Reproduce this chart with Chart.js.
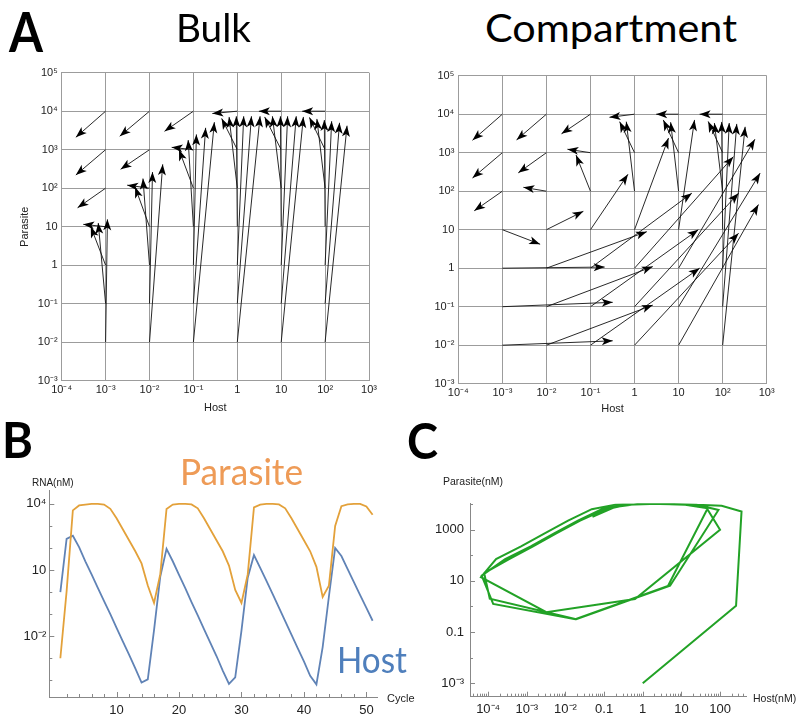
<!DOCTYPE html>
<html><head><meta charset="utf-8">
<script src="https://cdn.jsdelivr.net/npm/chart.js@4.4.1/dist/chart.umd.min.js"></script>
<style>
html,body{margin:0;padding:0;background:#fff;}
body{position:relative;width:800px;height:722px;overflow:hidden;}
.cw{position:absolute;}
.cw canvas{display:block;}
.lbl{position:absolute;white-space:nowrap;line-height:1;transform-origin:0 0;}
</style></head><body>
<div class="cw" style="left:0;top:60px;width:400px;height:360px"><canvas id="bulk" width="400" height="360"></canvas></div>
<div class="cw" style="left:400px;top:60px;width:400px;height:360px"><canvas id="comp" width="400" height="360"></canvas></div>
<div class="cw" style="left:0;top:470px;width:420px;height:252px"><canvas id="rna" width="420" height="252"></canvas></div>
<div class="cw" style="left:420px;top:470px;width:380px;height:252px"><canvas id="phase" width="380" height="252"></canvas></div>
<script>
// ---------------- DATA ----------------
// Panel A: arrow start points (host, parasite), column by column
const startHost = [
  1e-3,1e-3,1e-3,1e-3,1e-3,1e-3,1e-3,
  1e-2,1e-2,1e-2,1e-2,1e-2,1e-2,1e-2,
  0.1,0.1,0.1,0.1,0.1,0.1,0.1,
  1,1,1,1,1,1,1,
  10,10,10,10,10,10,10,
  100,100,100,100,100,100,100];
const startParasite = [
  1e4,1e3,1e2,10,1,0.1,0.01,
  1e4,1e3,1e2,10,1,0.1,0.01,
  1e4,1e3,1e2,10,1,0.1,0.01,
  1e4,1e3,1e2,10,1,0.1,0.01,
  1e4,1e3,1e2,10,1,0.1,0.01,
  1e4,1e3,1e2,10,1,0.1,0.01];
// Bulk: arrow end points
const bulkEndHost = [
  2.1e-4,2.1e-4,2.3e-4,3.1e-4,4.6e-4,6.8e-4,1.1e-3,
  2.1e-3,2.2e-3,3.1e-3,4.7e-3,7.1e-3,1.17e-2,2.0e-2,
  0.022,0.032,0.047,0.076,0.117,0.19,0.30,
  0.27,0.44,0.65,0.95,1.4,2.1,3.3,
  3.1,4.2,6.3,9.6,14,22,32,
  30,44,65,96,141,213,316];
const bulkEndParasite = [
  2100,220,31,11.5,10,12.5,15.5,
  2240,310,120,107,178,263,417,
  3000,1150,1000,1780,2500,3700,5200,
  8700,6500,7100,7400,7400,7400,7400,
  10000,7100,7400,7400,7400,7400,7100,
  10000,6900,6300,5900,5500,5000,4200];
// Compartment: arrow end points
const compEndHost = [
  2.1e-4,2.1e-4,2.3e-4,7.2e-3,0.21,0.32,0.32,
  2.1e-3,2.3e-3,3.0e-3,0.069,1.9,2.6,2.6,
  0.022,0.030,0.047,0.71,20,28,30,
  0.27,0.46,0.65,5.9,175,230,230,
  3.1,4.5,6.6,23,540,710,650,
  30,47,65,95,141,209,324];
const compEndParasite = [
  2100,220,31,4.2,1.07,0.13,0.013,
  2150,300,126,30,8.9,1.1,0.11,
  3100,1230,870,275,89,10,1.0,
  8300,6400,6400,2400,790,89,8.1,
  10000,7100,6200,7100,2240,295,45,
  10000,6500,5900,6300,5900,5600,4700];
const aHostTicks = [1e-4,1e-3,1e-2,1e-1,1,10,100,1000];
const aHostTickLabels = ['10\u207B\u2074','10\u207B\u00B3','10\u207B\u00B2','10\u207B\u00B9','1','10','10\u00B2','10\u00B3'];
const aParasiteTicks = [1e-3,1e-2,1e-1,1,10,100,1e3,1e4,1e5];
const aParasiteTickLabels = ['10\u207B\u00B3','10\u207B\u00B2','10\u207B\u00B9','1','10','10\u00B2','10\u00B3','10\u2074','10\u2075'];

// Panels B and C: time series (RNA, nM) per cycle
const cycles = [1,2,3,4,5,6,7,8,9,10,11,12,13,14,15,16,17,18,19,20,21,22,23,24,25,26,27,28,29,30,31,32,33,34,35,36,37,38,39,40,41,42,43,44,45,46,47,48,49,50,51];
const parasiteRNA = [0.001,1.07,5100,8500,9300,10000,10000,9300,6000,2240,710,224,71,20,2,0.32,6.5,
  5900,9300,10000,10000,9500,6300,2240,710,224,71,16,1.26,0.32,6.3,
  6900,9300,10000,10000,9500,6300,2240,710,224,71,14,0.6,1.95,1000,7900,9500,10000,10000,7600,3200];
const hostRNA = [1,260,360,110,25,6.3,1.55,0.39,0.1,0.024,0.0058,0.00145,3.5e-4,7.9e-5,1.1e-4,0.019,5.1,
  91,25,6,1.5,0.35,0.087,0.021,0.0051,0.00126,2.75e-4,6.8e-5,1.35e-4,0.018,4.5,
  48,12.6,3.2,0.8,0.195,0.048,0.0117,0.0029,7.1e-4,1.6e-4,6.5e-5,0.0032,0.63,100,43,11,2.8,0.72,0.19,0.05];
const bCycleTicks = [10,20,30,40,50];
const bRnaTicks = [1e-2,10,1e4];
const bRnaTickLabels = ['10\u207B\u00B2','10','10\u2074'];
const cHostTicks = [1e-4,1e-3,1e-2,0.1,1,10,100];
const cHostTickLabels = ['10\u207B\u2074','10\u207B\u00B3','10\u207B\u00B2','0.1','1','10','100'];
const cParasiteTicks = [1e-3,0.1,10,1000];
const cParasiteTickLabels = ['10\u207B\u00B3','0.1','10','1000'];

// ---------------- HELPERS ----------------
const SANS = "'Liberation Sans', Arial, sans-serif";
Chart.defaults.font.family = SANS;

function fixedTicks(values){ return s => { s.ticks = values.map(v => ({value: v})); }; }

function headsPlugin(endHost, endPar){
  return {id:'heads', afterDatasetsDraw(chart){
    const xs = chart.scales.x, ys = chart.scales.y, c = chart.ctx;
    c.save(); c.fillStyle = '#000';
    for (let i = 0; i < startHost.length; i++){
      const x0 = xs.getPixelForValue(startHost[i]), y0 = ys.getPixelForValue(startParasite[i]);
      const x1 = xs.getPixelForValue(endHost[i]), y1 = ys.getPixelForValue(endPar[i]);
      const a = Math.atan2(y1 - y0, x1 - x0), ca = Math.cos(a), sa = Math.sin(a);
      const L = 11, W = 4;
      c.beginPath();
      c.moveTo(x1, y1);
      c.lineTo(x1 - L*ca - W*sa, y1 - L*sa + W*ca);
      c.lineTo(x1 - 0.75*L*ca, y1 - 0.75*L*sa);
      c.lineTo(x1 - L*ca + W*sa, y1 - L*sa - W*ca);
      c.closePath(); c.fill();
    }
    c.restore();
  }};
}

function inTicksPlugin(xMajor, xMinor, yMajor, yMinor){
  return {id:'inticks', afterDraw(chart){
    const c = chart.ctx, a = chart.chartArea, xs = chart.scales.x, ys = chart.scales.y;
    c.save(); c.strokeStyle = '#888'; c.lineWidth = 1;
    const vx = (vals, len) => vals.forEach(v => { const p = Math.round(xs.getPixelForValue(v)) + 0.5;
      if (p < a.left - 0.5 || p > a.right + 0.5) return; c.beginPath(); c.moveTo(p, a.bottom); c.lineTo(p, a.bottom - len); c.stroke(); });
    const vy = (vals, len) => vals.forEach(v => { const p = Math.round(ys.getPixelForValue(v)) + 0.5;
      if (p < a.top - 0.5 || p > a.bottom + 0.5) return; c.beginPath(); c.moveTo(a.left, p); c.lineTo(a.left + len, p); c.stroke(); });
    vx(xMajor, 5); vx(xMinor, 3); vy(yMajor, 5); vy(yMinor, 3);
    c.restore();
  }};
}

function arrowPanel(id, endHost, endPar, g){
  const datasets = startHost.map((h, i) => ({
    data: [{x: h, y: startParasite[i]}, {x: endHost[i], y: endPar[i]}],
    showLine: true, borderColor: '#111', borderWidth: 0.9, pointRadius: 0, fill: false
  }));
  new Chart(document.getElementById(id), {
    type: 'scatter', data: {datasets}, plugins: [headsPlugin(endHost, endPar)],
    options: {
      responsive: false, animation: false, events: [],
      layout: {padding: {left: 0, right: g.padR, top: g.padT, bottom: 0}},
      plugins: {legend: {display: false}, tooltip: {enabled: false}},
      scales: {
        x: {type: 'logarithmic', position: 'bottom', min: 1e-4, max: 1e3,
          afterBuildTicks: fixedTicks(aHostTicks), afterFit: s => { s.height = g.xH; },
          ticks: {callback: (v, i) => aHostTickLabels[i], autoSkip: false, maxRotation: 0, minRotation: 0, padding: 3, color: '#222', font: {size: 11}},
          grid: {color: '#9c9c9c', lineWidth: 1, drawTicks: false}, border: {display: true, color: '#9c9c9c'},
          title: {display: true, text: 'Host', color: '#222', font: {size: 11}, padding: {top: 0, bottom: g.hostPad}}},
        y: {type: 'logarithmic', position: 'left', min: 1e-3, max: 1e5,
          afterBuildTicks: fixedTicks(aParasiteTicks), afterFit: s => { s.width = g.yW; },
          ticks: {callback: (v, i) => aParasiteTickLabels[i], autoSkip: false, padding: 4, color: '#222', font: {size: 11}},
          grid: {color: '#9c9c9c', lineWidth: 1, drawTicks: false}, border: {display: true, color: '#9c9c9c'},
          title: {display: g.yTitle, text: 'Parasite', color: '#222', font: {size: 11}, padding: {top: 18, bottom: 0}}}
      }
    }
  });
}

arrowPanel('bulk', bulkEndHost, bulkEndParasite, {yW: 61.7, padR: 31, padT: 12.7, xH: 39.3, hostPad: 5.4, yTitle: true});
arrowPanel('comp', compEndHost, compEndParasite, {yW: 58.3, padR: 33.3, padT: 15.7, xH: 36.3, hostPad: 4.0, yTitle: false});

// Panel B
const bMinorX = []; for (let v = 2; v <= 51; v += 2) if (v % 10) bMinorX.push(v);
new Chart(document.getElementById('rna'), {
  type: 'scatter',
  data: {datasets: [
    {data: cycles.map((c, i) => ({x: c, y: parasiteRNA[i]})), showLine: true, borderColor: '#E3A13A', borderWidth: 1.8, pointRadius: 0, fill: false},
    {data: cycles.map((c, i) => ({x: c, y: hostRNA[i]})), showLine: true, borderColor: '#6083B6', borderWidth: 1.8, pointRadius: 0, fill: false}
  ]},
  plugins: [inTicksPlugin(bCycleTicks, bMinorX, bRnaTicks, [1e-4,1e-3,0.1,1,100,1000])],
  options: {
    responsive: false, animation: false, events: [],
    layout: {padding: {left: 0, right: 43, top: 20, bottom: 0}},
    plugins: {legend: {display: false}, tooltip: {enabled: false}},
    scales: {
      x: {type: 'linear', min: -0.77, max: 51.7, afterBuildTicks: fixedTicks(bCycleTicks), afterFit: s => { s.height = 25; },
        ticks: {callback: v => String(v), autoSkip: false, maxRotation: 0, padding: 6, color: '#222', font: {size: 13}},
        grid: {display: false, drawTicks: false}, border: {display: true, color: '#888', width: 1}},
      y: {type: 'logarithmic', min: 1.74e-5, max: 4.27e4, afterBuildTicks: fixedTicks(bRnaTicks), afterFit: s => { s.width = 49.3; },
        ticks: {callback: (v, i) => bRnaTickLabels[i], autoSkip: false, padding: 3, color: '#222', font: {size: 13}},
        grid: {display: false, drawTicks: false}, border: {display: true, color: '#888', width: 1}}
    }
  }
});

// Panel C
const cMinorX = [];
[1e-5,1e-4,1e-3,1e-2,0.1,1,10,100].forEach(d => { for (let m = 2; m <= 9; m++) cMinorX.push(m * d); });
new Chart(document.getElementById('phase'), {
  type: 'scatter',
  data: {datasets: [
    {data: cycles.map((c, i) => ({x: hostRNA[i], y: parasiteRNA[i]})), showLine: true, borderColor: '#22A226', borderWidth: 2, pointRadius: 0, fill: false}
  ]},
  plugins: [inTicksPlugin(cHostTicks, cMinorX, cParasiteTicks, [0.01,1,100,1e4])],
  options: {
    responsive: false, animation: false, events: [],
    layout: {padding: {left: 0, right: 53.3, top: 33.3, bottom: 0}},
    plugins: {legend: {display: false}, tooltip: {enabled: false}},
    scales: {
      x: {type: 'logarithmic', min: 3.39e-5, max: 490, afterBuildTicks: fixedTicks(cHostTicks), afterFit: s => { s.height = 25.3; },
        ticks: {callback: (v, i) => cHostTickLabels[i], autoSkip: false, maxRotation: 0, padding: 5, color: '#222', font: {size: 13}},
        grid: {display: false, drawTicks: false}, border: {display: true, color: '#888', width: 1}},
      y: {type: 'logarithmic', min: 3.31e-4, max: 1.07e4, afterBuildTicks: fixedTicks(cParasiteTicks), afterFit: s => { s.width = 50; },
        ticks: {callback: (v, i) => cParasiteTickLabels[i], autoSkip: false, padding: 6, color: '#222', font: {size: 13}},
        grid: {display: false, drawTicks: false}, border: {display: true, color: '#888', width: 1}}
    }
  }
});

// ---------------- TEXT LABELS ----------------
function place(text, left, baseline, font, color, width){
  const d = document.createElement('div');
  d.className = 'lbl';
  d.style.left = left + 'px'; d.style.top = '0px'; d.style.font = font; d.style.color = color;
  const s = document.createElement('span'); s.textContent = text; d.appendChild(s);
  const m = document.createElement('span'); m.style.cssText = 'display:inline-block;width:0;height:0;vertical-align:baseline;';
  d.appendChild(m);
  document.body.appendChild(d);
  const off = m.getBoundingClientRect().top - d.getBoundingClientRect().top;
  d.style.top = (baseline - off) + 'px';
  if (width){ const w = s.getBoundingClientRect().width; d.style.transform = 'scaleX(' + (width / w) + ')'; }
  return d;
}
place('A', 9, 52, "700 55px Lato, 'Open Sans', sans-serif", '#000', 34);
place('Bulk', 176, 42, "400 39px Lato, 'Open Sans', sans-serif", '#000', 75);
place('Compartment', 485, 42, "400 39px Lato, 'Open Sans', sans-serif", '#000', 252);
place('B', 2, 458, "700 49px Lato, 'Open Sans', sans-serif", '#000', 31);
place('C', 407, 459, "700 49px Lato, 'Open Sans', sans-serif", '#000', 31);
place('Parasite', 180, 485, "400 37px Lato, 'Open Sans', sans-serif", '#EE9B57', 123);
place('Host', 337, 673, "400 37px Lato, 'Open Sans', sans-serif", '#4F7FBC', 70);
place('RNA(nM)', 32, 486, "10px " + SANS, '#222');
place('Cycle', 387, 701.5, "11px " + SANS, '#222');
place('Parasite(nM)', 443, 485, "10.5px " + SANS, '#222');
place('Host(nM)', 753, 701.5, "10.5px " + SANS, '#222');
</script>
</body></html>
